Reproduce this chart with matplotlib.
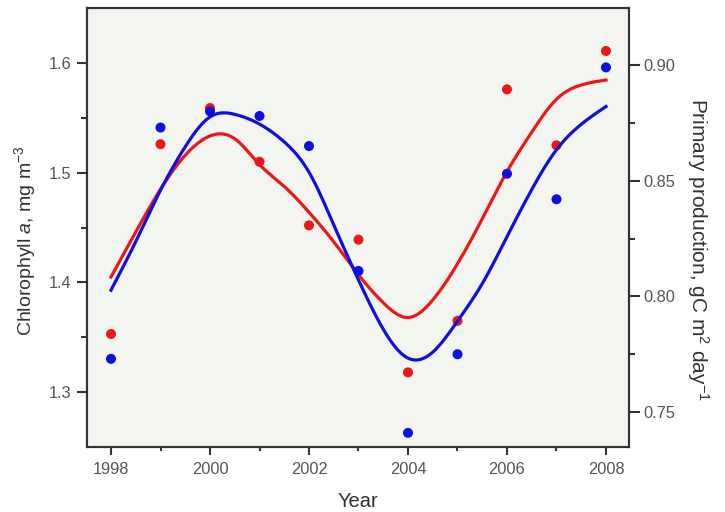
import numpy as np
import matplotlib.pyplot as plt

plt.rcParams['font.family'] = ['Liberation Sans', 'DejaVu Sans']
plt.rcParams['mathtext.fontset'] = 'custom'
plt.rcParams['mathtext.rm'] = 'Liberation Sans'
plt.rcParams['mathtext.it'] = 'Liberation Sans:italic'

# pomiary roczne
years = [1998, 1999, 2000, 2001, 2002, 2003, 2004, 2005, 2006, 2007, 2008]
chl = [1.353, 1.526, 1.559, 1.510, 1.452, 1.439, 1.318, 1.365, 1.576, 1.525, 1.611]
pp = [0.773, 0.873, 0.880, 0.878, 0.865, 0.811, 0.741, 0.775, 0.853, 0.842, 0.899]

# krzywe wygladzone, odczytane co pol roku
trend_years = [1998.0, 1998.5, 1999.0, 1999.5, 2000.0, 2000.5, 2001.0, 2001.5,
               2002.0, 2002.5, 2003.0, 2003.5, 2004.0, 2004.5, 2005.0, 2005.5,
               2006.0, 2006.5, 2007.0, 2007.5, 2008.0]
chl_trend = [1.405, 1.446, 1.485, 1.516, 1.5335, 1.531, 1.5075, 1.4875,
             1.464, 1.437, 1.407, 1.3815, 1.368, 1.384, 1.417, 1.458,
             1.501, 1.537, 1.567, 1.580, 1.5845]
pp_trend = [0.8027, 0.8237, 0.8459, 0.8647, 0.8776, 0.8787, 0.8745, 0.8668,
            0.8537, 0.8309, 0.8071, 0.7858, 0.7733, 0.7759, 0.7893, 0.8055,
            0.8258, 0.8462, 0.8634, 0.8744, 0.8821]

red = '#ee1616'
blue = '#0f0fe0'


# naturalny splajn kubiczny do rysowania gladkiej linii
def spline(x, y, xs):
    x = np.asarray(x, float)
    y = np.asarray(y, float)
    n = len(x)
    h = np.diff(x)
    A = np.zeros((n, n))
    r = np.zeros(n)
    A[0, 0] = A[-1, -1] = 1
    for i in range(1, n - 1):
        A[i, i - 1] = h[i - 1]
        A[i, i] = 2 * (h[i - 1] + h[i])
        A[i, i + 1] = h[i]
        r[i] = 6 * ((y[i + 1] - y[i]) / h[i] - (y[i] - y[i - 1]) / h[i - 1])
    M = np.linalg.solve(A, r)
    k = np.clip(np.searchsorted(x, xs) - 1, 0, n - 2)
    hh = x[k + 1] - x[k]
    a = (x[k + 1] - xs) / hh
    b = (xs - x[k]) / hh
    return a * y[k] + b * y[k + 1] + ((a**3 - a) * M[k] + (b**3 - b) * M[k + 1]) * hh**2 / 6


xs = np.linspace(trend_years[0], trend_years[-1], 400)

fig = plt.figure(figsize=(7.25, 5.12), dpi=100)
ax = fig.add_axes([0.12, 0.127, 0.7476, 0.857])
ax.set_facecolor('#f3f5f0')
ax2 = ax.twinx()

ax.plot(xs, spline(trend_years, chl_trend, xs), color=red, lw=2.3)
ax.scatter(years, chl, s=52, color=red, zorder=3, edgecolors='none')
ax2.plot(xs, spline(trend_years, pp_trend, xs), color=blue, lw=2.3)
ax2.scatter(years, pp, s=52, color=blue, zorder=3, edgecolors='none')

ax.set_xlim(1997.515, 2008.465)
ax.set_ylim(1.25, 1.65)
ax2.set_ylim(0.7349, 0.9246)
ax.set_xticks([1998, 2000, 2002, 2004, 2006, 2008])
ax.set_xticks([1999, 2001, 2003, 2005, 2007], minor=True)
ax.set_yticks([1.3, 1.4, 1.5, 1.6])
ax.set_yticks([1.35, 1.45, 1.55], minor=True)
ax2.set_yticks([0.75, 0.80, 0.85, 0.90])
ax2.set_yticks([0.775, 0.825, 0.875], minor=True)
ax2.set_yticklabels(['0.75', '0.80', '0.85', '0.90'])

for a in (ax, ax2):
    for s in a.spines.values():
        s.set_color('#333333')
        s.set_linewidth(1.5)
    a.tick_params(which='both', direction='out', width=1.5, color='#333333',
                  labelsize=11.8, labelcolor='#555555')
ax.tick_params(axis='x', which='major', length=6, pad=5)
ax.tick_params(axis='x', which='minor', length=3)
ax.tick_params(axis='y', which='major', length=7, pad=4)
ax.tick_params(axis='y', which='minor', length=4)
ax2.tick_params(axis='y', which='major', length=8, pad=2)
ax2.tick_params(axis='y', which='minor', length=4.5)

ax.set_xlabel('Year', fontsize=14.5, color='#333333', va='center')
ax.xaxis.set_label_coords(0.5, -0.125)
ax.set_ylabel('Chlorophyll $\\mathit{a}$, mg m$^{-3}$', fontsize=14, color='#333333',
              ha='center', va='center')
ax.yaxis.set_label_coords(-0.114, 0.469)
ax2.set_ylabel('Primary production, gC m$^{2}$ day$^{-1}$', fontsize=15, color='#333333',
               rotation=270, ha='center', va='center')
ax2.yaxis.set_label_coords(1.127, 0.449)

fig.savefig('out.png')
